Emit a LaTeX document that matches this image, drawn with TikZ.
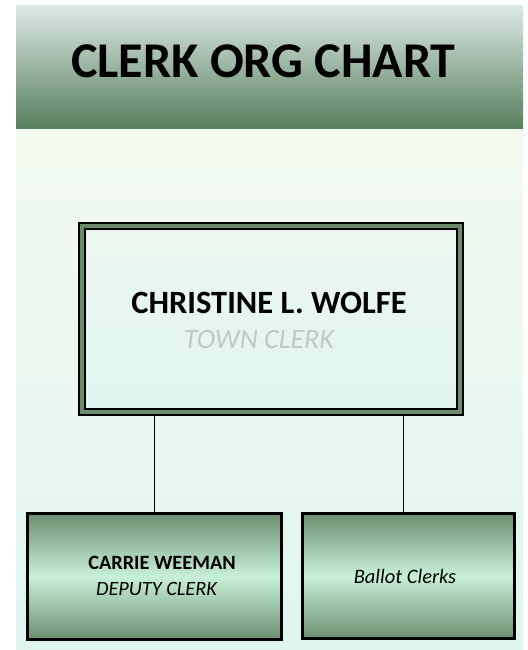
\documentclass[tikz,border=0pt]{standalone}
\usepackage{fontspec}
\setmainfont{Carlito}
\usetikzlibrary{calc}
\definecolor{bandtop}{HTML}{DCE9E6}
\definecolor{bandbot}{HTML}{567E5C}
\definecolor{bgtop}{HTML}{F3FAF0}
\definecolor{bgbot}{HTML}{DFF5F0}
\definecolor{framegreen}{HTML}{6A8C6A}
\definecolor{boxdark}{HTML}{6C8F70}
\definecolor{boxlight}{HTML}{C8F0D8}
\definecolor{subgray}{HTML}{C0CAC5}
\tikzset{
  headbox/.style={draw=black, line width=2pt, double=framegreen, double distance=3.5pt,
    top color=bgtop!60!bgbot, bottom color=bgbot, inner sep=0pt, outer sep=0pt},
  staffbox/.style={draw=black, line width=3pt, top color=boxdark, bottom color=boxdark,
    middle color=boxlight, inner sep=0pt, outer sep=0pt},
  lbl/.style={anchor=base, inner sep=0pt, outer sep=0pt},
  conn/.style={draw=black, line width=0.9pt}
}
\begin{document}
\begin{tikzpicture}[x=1pt,y=-1pt]
\useasboundingbox (0,0) rectangle (527,650);
\fill[white] (0,0) rectangle (527,650);
% background panel
\shade[top color=bgtop, bottom color=bgbot] (16,129) rectangle (523,650);
% title band
\shade[top color=bandtop, bottom color=bandbot] (16,6) rectangle (523,129);
\node[lbl, font=\fontsize{50}{56}\selectfont\bfseries] (title) at (263.5,78) {CLERK ORG CHART};
% head box
\node[headbox, minimum width=378pt, minimum height=186pt] (head) at (271,319) {};
\node[lbl, font=\fontsize{32.5}{36}\selectfont\bfseries] (headname) at (269,313) {CHRISTINE L. WOLFE};
\node[lbl, font=\fontsize{28}{32}\selectfont\itshape, text=subgray] (headrole) at (259,348) {TOWN CLERK};
% staff boxes
\node[staffbox, minimum width=254pt, minimum height=126pt] (deputy) at (154.5,576.5) {};
\node[staffbox, minimum width=212pt, minimum height=125pt] (ballot) at (408.5,576) {};
\node[lbl, font=\fontsize{20.3}{24}\selectfont\bfseries] (depname) at (162,569) {CARRIE WEEMAN};
\node[lbl, font=\fontsize{20.3}{24}\selectfont\itshape] (deprole) at (156.5,595) {DEPUTY CLERK};
\node[lbl, font=\fontsize{20.5}{24}\selectfont\itshape] (ballotname) at (405,583) {Ballot Clerks};
% connectors
\draw[conn] ($(head.south -| deputy.north)+(0,4)$) -- ($(deputy.north)+(0,-1.5)$);
\coordinate (rtop) at ($(head.south)+(132,4)$);
\coordinate (rbot) at ($(ballot.north)+(-5.5,-1.5)$);
\draw[conn] (rtop) -- (rtop |- rbot);
\end{tikzpicture}
\end{document}
